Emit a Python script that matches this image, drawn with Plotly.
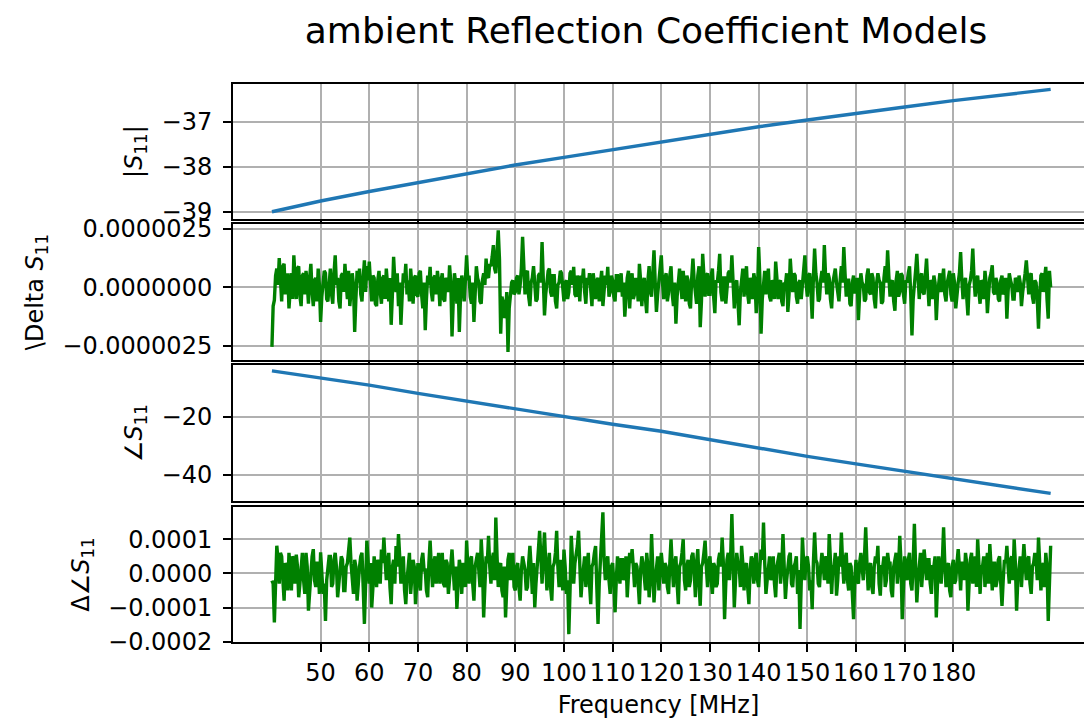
import plotly.graph_objects as go

# ---------------- data ----------------
freq_coarse = [40, 50, 60, 70, 80, 90, 100, 110, 120, 130, 140, 150, 160, 170, 180, 190, 200]
s11_mag_db = [-39.0, -38.76, -38.55, -38.35, -38.15, -37.96, -37.79, -37.62, -37.46,
              -37.28, -37.11, -36.96, -36.81, -36.67, -36.53, -36.40, -36.28]
s11_phase_deg = [-4.3, -6.7, -9.2, -12.0, -14.7, -17.4, -20.0, -22.6, -25.0,
                 -27.9, -30.8, -33.6, -36.2, -38.7, -41.2, -43.8, -46.3]

# magnitude residual 40..200 MHz every 0.25 MHz, in units of 1e-6
delta_s11_e6 = [
    -2.54, -0.8, -0.55, 0.5, 0.80, 0.1, 1.25, 0.2, -0.6, 0.9, 1.0, -0.3, 0.3, 0.6, -0.9, 0.2, 0.6, -0.5, 1.36, 0.4,
    -0.5, 0.8, 0.9, -0.4, -0.8, 0.5, 0.6, -0.3, 0.7, 0.2, -0.7, 0.4, 1.0, -0.2, -0.8, 0.3, 0.4, -0.6, 0.8, 0.1,
    -1.48, -0.4, 0.3, 0.7, 0.6, -0.5, -0.6, 0.4, 0.8, -0.3, -0.7, 0.6, 1.36, 0.1, 0.4, -0.6, -0.9, 0.5, 0.6, -0.2,
    1.0, 0.2, -0.5, 0.7, -0.8, -0.2, 0.6, 0.1, -1.9, -0.5, 0.7, 0.2, 0.8, -0.3, -0.6, 0.4, 1.15, -0.2, 0.9, 0.3,
    1.1, 0.2, -0.6, 0.5, 0.4, -0.7, -0.8, 0.3, 0.7, -0.2, -0.7, 0.4, 0.5, -0.5, 0.8, 0.1, -0.6, 0.4, -1.6, -0.3,
    1.3, 0.3, -0.2, 0.6, -0.8, 0.2, -1.6, -0.4, 0.6, 0.2, 1.0, -0.3, 0.3, -0.6, 0.8, 0.1, -0.7, 0.4, 0.5, -0.3,
    -0.4, 0.6, 0.7, -0.3, -0.9, 0.2, -1.83, -0.5, 0.5, 0.1, 0.87, -0.2, -0.6, 0.4, 0.5, -0.3, 0.7, 0.2, -0.8, 0.3,
    0.6, -0.5, -0.6, 0.4, 0.3, -0.2, 0.94, 0.2, -2.1, -0.6, 0.6, 0.2, -0.7, 0.4, -1.9, -0.4, 0.5, 0.1, -0.6, 0.3,
    1.36, 0.3, 0.5, -0.4, -0.7, 0.2, -1.48, -0.3, 0.9, 0.4, 0.2, -0.6, -0.7, 0.3, 0.6, 0.1, 1.22, 0.5, 0.4, 1.0,
    0.9, 1.3, 1.8, 0.8, 0.6, 1.5, 2.43, 1.2, -1.98, -0.4, -0.6, -1.3, -1.2, -0.2, -2.76, -0.9, -0.4, 0.2, 0.3, -0.3,
    -0.2, 0.4, 0.5, -0.3, 0.1, 0.8, 2.15, 0.3, -0.3, 0.6, 0.7, -0.4, -0.8, 0.2, 0.4, 0.9, 0.2, -0.6, -0.5, 0.5,
    0.6, 0.2, 1.93, 0.4, -1.2, -0.3, 0.3, 0.7, 0.8, -0.2, -0.4, 0.5, 0.5, -0.6, -0.9, 0.1, 0.2, 0.7, 0.6, -0.3,
    -0.6, 0.2, 0.3, -0.5, -0.2, 0.6, 0.7, 0.1, 0.87, -0.3, -0.4, 0.5, 0.2, -0.6, 0.5, 0.2, 0.8, -0.2, -0.7, 0.4,
    0.1, 0.6, -0.3, -0.8, 0.6, 0.2, -0.5, 0.3, 0.4, -0.6, 0.2, 0.7, -0.8, -0.2, 0.5, 0.1, 0.87, -0.4, -0.2, 0.5,
    0.3, -0.4, -0.6, 0.5, 0.5, -0.2, 0.1, 0.6, -0.4, 0.2, -1.25, -0.3, 0.4, 0.7, -0.9, 0.1, 0.6, -0.5, -0.3, 0.4,
    0.2, -0.6, 1.0, 0.3, -0.8, 0.2, 0.4, -0.5, -1.1, 0.3, 0.9, -0.2, -0.4, 0.6, 1.58, 0.2, -1.05, -0.3, 0.3, 0.8,
    1.36, 0.2, -0.5, 0.4, 0.6, -0.6, -0.2, 0.5, 0.9, -0.3, -0.8, 0.2, -1.55, -0.4, 0.4, 0.8, 0.1, -0.5, 0.7, 0.2,
    -0.6, 0.5, 0.3, -0.7, -0.9, 0.4, 1.22, 0.3, -0.2, -0.7, 0.5, 0.9, -1.7, -0.6, 1.43, 0.3, -0.4, 0.5, 0.6, -0.3,
    -0.3, 0.5, 0.8, -0.4, -1.1, 0.3, 0.2, 0.7, 1.43, -0.2, -0.6, 0.4, 0.4, -0.7, -0.2, 0.6, 0.7, 0.2, 1.36, 0.5,
    -0.9, 0.1, 0.3, -0.6, -1.62, -0.2, 0.5, 0.8, -0.4, 0.2, 0.9, -0.3, -0.7, 0.4, 0.2, -0.5, 0.6, 0.3, -1.1, -0.4,
    1.72, 0.4, -1.98, -0.5, 0.4, 0.7, -0.3, 0.2, 0.8, -0.4, -0.6, 0.3, 0.2, -0.5, 1.1, 0.4, -0.5, 0.2, 0.3, -0.6,
    -0.8, 0.2, 0.1, 0.6, -1.05, -0.3, 1.22, 0.4, -0.2, 0.6, 0.5, -0.4, -0.7, 0.2, 0.3, -0.5, 0.1, 0.7, 1.36, 0.2,
    -0.4, 0.5, 0.6, -0.2, -1.34, 0.4, 1.65, 0.6, 0.2, -0.6, -0.5, 0.3, 0.7, 0.2, 1.8, 0.5, -0.3, 0.6, 0.4, -0.5,
    -0.9, 0.2, 0.5, 0.8, 0.2, -0.4, -0.6, 0.3, 0.9, 0.2, 1.72, 0.6, -0.4, 0.3, 0.3, -0.7, -0.8, 0.2, 0.5, -0.2,
    -0.2, 0.4, -1.4, -0.3, 0.6, 0.2, 0.1, -0.6, -0.5, 0.5, 0.8, -0.2, -0.3, 0.6, 0.4, -0.5, -0.9, 0.2, 0.6, 0.3,
    0.2, -0.7, -0.6, 0.4, 0.9, 0.2, 1.58, 0.5, -0.4, 0.2, 0.3, -0.6, -1.0, 0.3, 0.7, -0.4, -0.2, 0.6, 0.5, -0.3,
    -0.7, 0.3, 0.2, 0.6, 0.9, -0.3, -2.05, -0.5, 0.4, 0.7, 1.43, 0.2, -0.5, 0.4, 0.6, -0.2, -0.3, 0.5, 1.22, 0.1,
    -0.8, 0.3, 0.2, -0.5, 0.5, 0.2, -1.4, -0.3, 0.3, 0.6, -0.2, 0.4, 0.8, -0.3, -0.6, 0.2, 0.4, 0.7, -0.3, -0.6,
    0.6, 0.2, -0.9, -0.2, 0.2, 0.6, 1.5, 0.3, -0.5, 0.2, 0.4, -0.4, -1.2, 0.1, 0.3, 0.7, 1.65, 0.4, -0.4, 0.3,
    0.5, -0.2, -0.7, 0.3, 0.2, -0.5, 0.7, 0.2, -1.1, -0.3, 0.4, 0.6, 0.94, -0.2, -0.3, 0.4, 0.2, -0.5, -0.6, 0.3,
    0.5, -0.3, -0.2, 0.4, -1.34, -0.2, 0.6, 0.3, 0.1, -0.5, -0.5, 0.4, 0.3, -0.2, 0.5, 0.2, -0.8, -0.2, 0.4, 0.6,
    1.15, 0.2, -0.3, 0.5, 0.6, -0.4, -0.7, 0.3, 0.2, -0.5, -1.76, -0.3, 0.5, 0.6, -0.2, 0.4, 0.87, -0.5, -1.34, 0.7,
    0.0,
]

# phase residual 40..200 MHz every 0.25 MHz, in units of 1e-4
delta_phase_e4 = [
    -0.21, -0.3, -1.44, 0.2, 0.81, 0.4, -0.3, 0.6, 0.5, -0.2, -0.8, 0.3, 0.2, -0.5, 0.6, 0.1, -0.5, 0.5, 0.4, -0.3,
    0.55, 0.2, -0.7, -0.3, 0.3, 0.6, -0.2, -0.6, 0.6, 0.2, -1.09, -0.4, 0.1, 0.5, 0.71, -0.2, -0.4, 0.3, 0.3, -0.6,
    0.62, 0.1, -0.6, -0.3, -1.39, -0.2, 0.2, 0.5, 0.5, -0.4, -0.3, 0.4, 0.6, 0.2, -0.7, -0.3, 0.1, 0.5, 0.4, -0.5,
    -0.5, 0.2, 0.3, 0.7, 1.05, 0.3, -0.2, -0.6, 0.4, 0.2, -0.8, -0.2, 0.2, 0.5, 0.6, -0.4, -1.48, -0.3, 0.96, 0.4,
    -0.3, 0.3, -1.0, -0.4, 0.5, 0.1, -0.4, 0.4, 0.3, -0.3, 0.7, 0.3, 1.05, 0.4, -0.2, 0.3, 0.6, -0.4, -0.9, 0.2,
    0.4, -0.3, 0.8, 0.2, 1.15, 0.5, -0.3, 0.2, 0.5, -0.5, -0.9, -0.2, 0.2, 0.6, -0.6, -0.2, 0.4, 0.2, -0.9, -0.3,
    0.3, -0.2, -0.5, 0.4, 0.6, 0.1, 0.1, -0.5, -0.7, 0.3, 0.96, 0.2, -0.4, 0.3, 0.5, -0.3, 0.2, 0.6, -0.3, 0.2,
    0.6, -0.3, -0.4, 0.4, 0.3, -0.6, -0.2, 0.3, 0.7, 0.1, -0.5, 0.2, -1.04, -0.3, 0.4, 0.2, -0.6, 0.3, 0.2, -0.4,
    0.96, 0.2, -0.3, 0.4, 0.5, -0.3, -0.8, 0.2, 0.4, 0.6, 0.1, -0.4, 1.0, 0.3, -1.29, -0.2, 0.5, 0.3, 1.1, 0.2,
    -0.3, 0.4, 0.6, -0.2, 1.64, 0.5, -0.4, 0.2, 0.3, -0.5, -0.7, 0.2, -1.29, -0.4, 0.4, 0.6, -0.2, 0.3, 0.6, -0.4,
    -0.5, 0.2, 0.3, -0.4, -0.8, 0.1, 0.5, 0.3, 0.1, -0.5, -0.4, 0.3, 0.81, 0.2, -0.6, 0.3, -1.0, -0.3, 0.4, 0.7,
    1.25, 0.4, -0.3, 0.5, 1.2, 0.3, -0.5, 0.2, 0.6, -0.4, -0.8, 0.2, 0.3, 0.6, 1.25, 0.2, -0.4, 0.4, 0.2, -0.5,
    0.7, 0.2, -0.6, -0.2, -1.78, -0.5, 1.1, 0.4, -0.3, 0.3, 0.5, 0.8, 1.25, 0.2, -0.7, -0.2, 0.2, 0.5, -0.4, 0.3,
    0.6, -0.3, -0.9, 0.2, 0.3, 0.6, 0.8, -0.4, -1.48, -0.3, 0.4, 0.7, 1.79, 0.4, -0.2, 0.3, 0.5, -0.2, -0.6, 0.2,
    0.3, -0.3, -1.14, -0.2, 0.5, 0.2, -0.3, 0.4, 0.4, -0.2, 0.1, 0.5, -0.7, -0.2, 0.6, 0.3, 0.71, 0.2, -0.4, 0.3,
    0.2, -0.3, -0.9, 0.1, 0.5, 0.3, -0.2, -0.5, 0.6, 0.2, -0.7, -0.2, 1.15, 0.3, -0.85, -0.2, 0.3, 0.5, -0.5, 0.2,
    0.6, 0.2, -0.3, 0.3, 0.2, -0.4, -0.6, 0.3, 1.0, 0.2, -0.4, 0.3, 0.5, -0.3, -0.9, 0.2, 0.3, 0.6, 1.0, -0.2,
    -0.5, 0.2, 0.4, -0.4, -0.2, 0.5, 0.6, 0.1, -0.7, 0.3, 0.71, -0.3, -0.95, 0.2, 0.3, 0.6, 0.96, 0.2, -0.4, 0.3,
    0.5, -0.2, -0.6, 0.3, 0.2, -0.4, -0.3, 0.4, 0.6, 0.2, 1.05, 0.3, -1.34, -0.3, 0.4, 0.6, -0.2, 0.5, 1.74, 0.4,
    -1.0, -0.2, 0.6, 0.3, 0.2, -0.4, 0.81, 0.3, -0.5, 0.2, 0.3, -0.4, -0.9, 0.1, 0.5, 0.3, -0.3, 0.4, 0.6, -0.2,
    -0.4, 0.2, 0.7, 0.4, 1.49, 0.3, -0.6, -0.2, 0.3, 0.5, -0.2, 0.3, 0.5, -0.3, -0.7, 0.2, 0.4, 0.6, -0.3, 0.2,
    1.15, 0.3, -0.75, -0.2, 0.2, 0.5, 0.6, -0.3, -0.4, 0.2, 0.3, 0.5, -0.6, 0.1, -1.63, -0.4, 1.05, 0.3, -0.2, 0.4,
    0.5, 0.2, -0.5, -0.2, -1.05, 0.3, 1.2, 0.4, 0.3, -0.3, -0.4, 0.2, 0.6, 0.3, -0.2, 0.5, 0.4, -0.3, 1.15, 0.4,
    -0.6, 0.2, 0.2, 0.6, -0.65, -0.2, 0.5, 0.2, 1.2, 0.3, -0.3, 0.4, 0.6, -0.2, -0.5, 0.3, 0.2, -0.6, -1.34, -0.2,
    0.4, -0.2, -0.3, 0.3, 0.6, 0.2, -0.2, 0.5, 1.35, 0.3, -0.5, 0.2, 0.3, -0.4, -0.6, 0.2, 0.5, 0.3, 0.81, -0.3,
    -0.65, 0.2, 0.2, 0.5, -0.4, -0.2, 0.6, 0.3, 0.3, -0.5, -0.7, 0.2, 0.4, 0.6, -0.3, 0.2, 1.1, 0.3, -1.34, -0.3,
    0.5, 0.2, -0.2, 0.4, 0.6, -0.3, -0.5, 0.3, 1.45, 0.2, -0.85, -0.2, 0.3, 0.6, -0.4, 0.2, 0.7, 0.3, -0.2, 0.4,
    0.4, -0.3, -0.6, 0.2, 0.2, 0.5, -1.29, -0.3, 0.5, 0.2, -0.3, 0.4, 1.35, 0.3, -0.4, 0.2, 0.3, -0.5, -0.7, 0.2,
    0.4, -0.3, -0.2, 0.3, 0.71, 0.2, -0.5, 0.3, 0.3, -0.2, 0.6, 0.3, -1.09, -0.3, 0.4, 0.6, -0.3, 0.2, 0.5, -0.4,
    1.0, 0.3, -0.6, 0.2, 0.2, 0.5, -0.4, 0.1, 0.6, -0.3, 0.86, 0.2, -0.5, 0.3, 0.3, -0.4, -0.2, 0.4, 0.5, -0.3,
    -0.95, -0.2, 0.4, 0.3, 0.81, 0.2, -0.3, 0.4, 0.5, -0.2, 1.0, 0.3, -1.09, -0.2, 0.3, 0.5, -0.4, 0.2, 0.86, 0.3,
    -0.2, 0.4, 0.5, -0.3, -0.6, 0.2, 0.3, 0.6, 0.4, -0.2, 1.05, 0.3, -0.5, 0.2, 0.3, -0.4, 0.6, 0.2, -1.39, -0.3,
    0.81,
]

f_start, f_stop = 40.0, 200.0
freq_fine_s11 = [f_start + (f_stop - f_start) * i / (len(delta_s11_e6) - 1) for i in range(len(delta_s11_e6))]
freq_fine_ph = [f_start + (f_stop - f_start) * i / (len(delta_phase_e4) - 1) for i in range(len(delta_phase_e4))]

x_tickvals = [50, 60, 70, 80, 90, 100, 110, 120, 130, 140, 150, 160, 170, 180]

# ---------------- figure ----------------
BLUE = "#1f77b4"
GREEN = "#008000"
GRID = "#b0b0b0"
FONT = "DejaVu Sans, Verdana, sans-serif"

fig = go.Figure()
fig.add_trace(go.Scatter(x=freq_coarse, y=s11_mag_db, mode="lines",
                         line=dict(color=BLUE, width=3.4), xaxis="x", yaxis="y", showlegend=False))
fig.add_trace(go.Scatter(x=freq_fine_s11, y=[v * 1e-6 for v in delta_s11_e6], mode="lines",
                         line=dict(color=GREEN, width=3.4), xaxis="x2", yaxis="y2", showlegend=False))
fig.add_trace(go.Scatter(x=freq_coarse, y=s11_phase_deg, mode="lines",
                         line=dict(color=BLUE, width=3.4), xaxis="x3", yaxis="y3", showlegend=False))
fig.add_trace(go.Scatter(x=freq_fine_ph, y=[v * 1e-4 for v in delta_phase_e4], mode="lines",
                         line=dict(color=GREEN, width=3.4), xaxis="x4", yaxis="y4", showlegend=False))

domains = [[0.7581, 1.0], [0.5054, 0.7491], [0.2527, 0.4964], [0.0, 0.2419]]
xrange_ = [32, 206.85]

common_x = dict(range=xrange_, tickvals=x_tickvals, ticktext=[str(v) for v in x_tickvals],
                showgrid=True, gridcolor=GRID, gridwidth=2, zeroline=False,
                showline=True, linecolor="black", linewidth=2, mirror=True,
                ticks="outside", ticklen=8, tickwidth=2, tickcolor="black",
                tickfont=dict(family=FONT, size=24, color="black"))
common_y = dict(showgrid=True, gridcolor=GRID, gridwidth=2, zeroline=False,
                showline=True, linecolor="black", linewidth=2, mirror=False,
                ticks="outside", ticklen=8, tickwidth=2, tickcolor="black",
                tickfont=dict(family=FONT, size=24, color="black"), ticklabelstandoff=6)

ylabels = ["|<i>S</i><sub>11</sub>|", "\\Delta <i>S</i><sub>11</sub>",
           "∠<i>S</i><sub>11</sub>", "Δ∠<i>S</i><sub>11</sub>"]
yranges = [[-39.16, -36.16], [-3.1e-6, 2.7e-6], [-48.9, -2.3], [-2.01e-4, 1.945e-4]]
ytickvals = [[-39, -38, -37], [-2.5e-6, 0, 2.5e-6], [-40, -20], [-2e-4, -1e-4, 0, 1e-4]]
yticktext = [["−39", "−38", "−37"], ["−0.0000025", "0.0000000", "0.0000025"],
             ["−40", "−20"], ["−0.0002", "−0.0001", "0.0000", "0.0001"]]

layout = dict(
    width=1084, height=719,
    margin=dict(l=233, r=0, t=84, b=77),
    paper_bgcolor="white", plot_bgcolor="white",
    font=dict(family=FONT, color="black"),
    title=dict(text="ambient Reflection Coefficient Models", x=646 / 1084, xanchor="center",
               y=1 - 30 / 719, yanchor="middle", font=dict(family=FONT, size=36, color="black")),
)
for i in range(4):
    n = "" if i == 0 else str(i + 1)
    xa = dict(common_x, anchor="y" + n, showticklabels=(i == 3))
    if i > 0:
        xa["matches"] = "x"
    if i == 3:
        xa["title"] = dict(text="Frequency [MHz]", standoff=10,
                           font=dict(family=FONT, size=24, color="black"))
    layout["xaxis" + n] = xa
    layout["yaxis" + n] = dict(common_y, domain=domains[i], anchor="x" + n, range=yranges[i],
                               tickvals=ytickvals[i], ticktext=yticktext[i],
                               title=dict(text=ylabels[i], standoff=12,
                                          font=dict(family=FONT, size=24, color="black")))
fig.update_layout(**layout)

fig.write_html("out.html")
